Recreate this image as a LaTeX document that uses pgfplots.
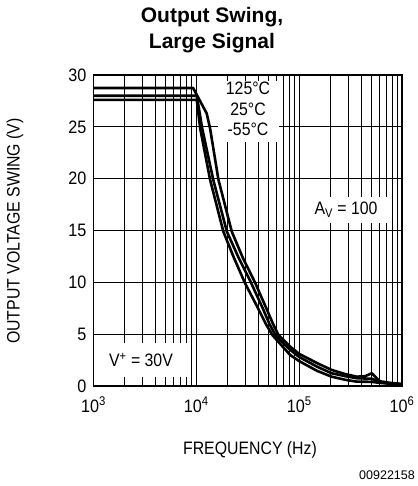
\documentclass[border=0pt]{standalone}
\usepackage{fontspec}
\setmainfont{Liberation Sans}
\usepackage{graphicx}
\usepackage{pgfplots}
\pgfplotsset{compat=1.18}
\newcommand\nar[1]{\scalebox{0.88}[1]{#1}}
\newcommand\tnar[1]{\scalebox{0.9}[1]{#1}}
\begin{document}
\begin{tikzpicture}[x=1pt,y=1pt]
\useasboundingbox (0,0) rectangle (417,486);
\node[anchor=base, font=\bfseries\fontsize{21}{25}\selectfont] at (212,463) {Output Swing,};
\node[anchor=base, font=\bfseries\fontsize{21}{25}\selectfont] at (212,437) {Large Signal};
\node[rotate=90, font=\fontsize{18}{21}\selectfont] at (15,255) {\nar{OUTPUT VOLTAGE SWING (V)}};
\node[font=\fontsize{18}{21}\selectfont] at (250,36) {\nar{FREQUENCY (Hz)}};
\node[font=\fontsize{12.5}{14}\selectfont] at (387,11) {00922158};
\begin{axis}[
  at={(93.5pt,100pt)}, anchor=south west, scale only axis,
  width=308.5pt, height=311pt,
  xmode=log, xmin=1e3, xmax=1e6, ymin=0, ymax=30,
  ytick={0,5,...,30},
  yticklabel={\tnar{\pgfmathprintnumber{\tick}}},
  xtick={1e3,1e4,1e5,1e6},
  xticklabels={\tnar{10\textsuperscript{3}},\tnar{10\textsuperscript{4}},\tnar{10\textsuperscript{5}},\tnar{10\textsuperscript{6}}},
  minor xtick={2000,3000,4000,5000,6000,7000,8000,9000,20000,30000,40000,50000,60000,70000,80000,90000,200000,300000,400000,500000,600000,700000,800000,900000},
  major tick length=0pt, minor tick length=0pt,
  grid=both,
  major grid style={black, line width=1.1pt},
  minor grid style={black, line width=1.1pt},
  axis line style={black, line width=1.3pt},
  tick label style={font=\fontsize{18}{21}\selectfont},
  /pgf/number format/assume math mode=true,
  yticklabel style={anchor=east, inner sep=0pt, xshift=-7pt},
  xticklabel style={anchor=north, inner sep=0pt, yshift=-11pt},
  clip=true,
]
\addplot[black, line width=2.6pt, line join=round] coordinates {
(1000,28.75) (9300,28.75) (12600,26.3) (13600,24.85) (16400,19.9) (22100,14.9) (28500,12.3) (37150,10.0) (47900,7.5) (55600,6.0) (63100,4.9) (81500,3.8) (100000,3.1) (150000,2.2) (207000,1.55) (280000,1.15) (363000,0.9) (440000,0.95) (508000,1.23) (560000,0.8) (612000,0.45) (800000,0.28) (1000000,0.2)
};
\addplot[black, line width=2.6pt, line join=round] coordinates {
(1000,28.0) (10100,28.0) (11400,24.85) (14600,19.9) (19800,14.9) (25700,12.4) (33900,10.0) (44200,7.5) (51300,6.0) (58900,4.9) (81500,3.5) (100000,2.8) (150000,1.85) (207000,1.23) (280000,0.95) (363000,0.75) (508000,0.7) (612000,0.38) (800000,0.22) (1000000,0.15)
};
\addplot[black, line width=2.6pt, line join=round] coordinates {
(1000,27.6) (10100,27.6) (10900,24.85) (13600,19.9) (18300,14.9) (22900,12.5) (29800,9.9) (39800,7.5) (47300,6.0) (55000,4.9) (81500,3.0) (100000,2.4) (150000,1.45) (207000,0.9) (280000,0.6) (363000,0.42) (508000,0.4) (612000,0.3) (800000,0.2) (1000000,0.15)
};
\node[fill=white, inner sep=0pt, minimum width=61pt, minimum height=58pt, font=\fontsize{18}{20.5}\selectfont] at (axis cs:31800,26.5) {\nar{\begin{tabular}{@{}c@{}}125°C\\25°C\\-55°C\end{tabular}}};
\node[fill=white, inner sep=0pt, minimum width=92pt, minimum height=26pt, font=\fontsize{18}{21}\selectfont] at (axis cs:285800,16.97) {\nar{A\textsubscript{V} = 100}};
\node[fill=white, inner sep=0pt, minimum width=92pt, minimum height=34pt, font=\fontsize{18}{21}\selectfont] at (axis cs:2897,2.5) {\nar{V\textsuperscript{+} = 30V}};
\end{axis}
\end{tikzpicture}
\end{document}
